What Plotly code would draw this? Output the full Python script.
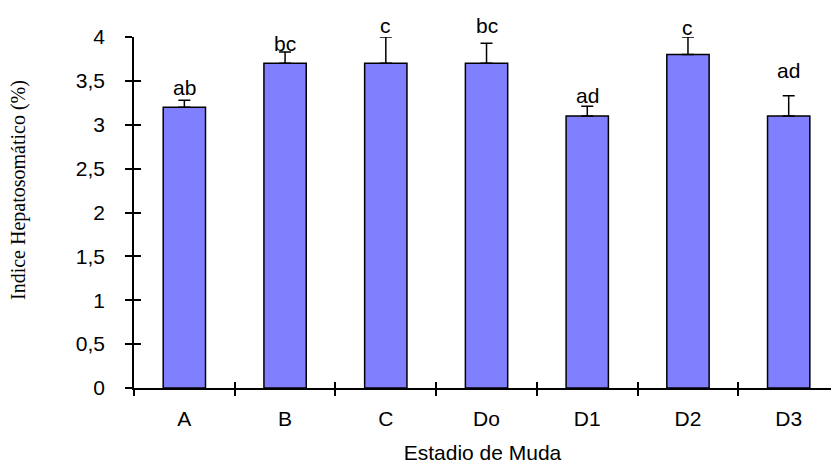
import plotly.graph_objects as go

categories = ["A", "B", "C", "Do", "D1", "D2", "D3"]
values = [3.2, 3.7, 3.7, 3.7, 3.1, 3.8, 3.1]
errors = [0.08, 0.13, 0.30, 0.23, 0.11, 0.20, 0.23]
letters = ["ab", "bc", "c", "bc", "ad", "c", "ad"]
label_y = [3.43, 3.93, 4.13, 4.13, 3.33, 4.11, 3.62]
y_ticks = [0, 0.5, 1, 1.5, 2, 2.5, 3, 3.5, 4]
y_title = "Indice Hepatosomático (%)"
x_title = "Estadio de Muda"

font_sans = "Liberation Sans, Arial, sans-serif"
font_serif = "Liberation Serif, Times New Roman, serif"
FS = 21

W, H = 831, 464
M = dict(l=134, r=0, t=37, b=76)
plot_w = W - M["l"] - M["r"]
plot_h = H - M["t"] - M["b"]
px_per_unit = plot_h / 4.0

fig = go.Figure()
fig.add_trace(go.Bar(
    x=categories, y=values, width=0.42,
    marker=dict(color="#8080FF", line=dict(color="black", width=1.5)),
    error_y=dict(type="data", symmetric=False, array=errors,
                 arrayminus=[0] * len(errors), color="black",
                 thickness=1.5, width=6),
    showlegend=False,
))
# invisible trace for the overlay axes (crossing ticks)
fig.add_trace(go.Scatter(x=categories, y=values, xaxis="x2", yaxis="y2",
                         mode="markers", marker=dict(opacity=0),
                         showlegend=False, hoverinfo="skip"))

for c, v, e, t, ly in zip(categories, values, errors, letters, label_y):
    top = v + e
    fig.add_annotation(x=c, y=top, text=t, showarrow=False,
                       font=dict(family=font_sans, size=FS, color="black"),
                       yanchor="middle", yshift=(ly - top) * px_per_unit)

# y-axis title (placed slightly above the axis centre, as in the original)
fig.add_annotation(xref="paper", yref="paper",
                   x=(18 - M["l"]) / plot_w, y=(H - M["b"] - 190) / plot_h,
                   text=y_title, textangle=-90, showarrow=False,
                   xanchor="center", yanchor="middle",
                   font=dict(family=font_serif, size=20, color="black"))

fig.update_layout(
    width=W, height=H,
    margin=M,
    plot_bgcolor="white", paper_bgcolor="white",
    separators=",.",
    xaxis=dict(
        type="category", range=[-0.5, 6.42], automargin=False,
        showline=True, linecolor="black", linewidth=1.5,
        ticks="outside", ticklen=6, tickwidth=1.5, tickcolor="black",
        tickson="boundaries", showgrid=False, zeroline=False,
        tickfont=dict(family=font_sans, size=FS, color="black"),
        ticklabelstandoff=11,
        title=dict(text=x_title, standoff=25,
                   font=dict(family=font_sans, size=FS, color="black")),
    ),
    xaxis2=dict(
        type="category", overlaying="x", matches="x",
        ticks="inside", ticklen=6, tickwidth=1.5, tickcolor="black",
        tickson="boundaries", showticklabels=False, showgrid=False,
        showline=False, zeroline=False,
    ),
    yaxis=dict(
        range=[0, 4], tickvals=y_ticks, automargin=False,
        showline=True, linecolor="black", linewidth=1.5,
        ticks="outside", ticklen=7, tickwidth=1.5, tickcolor="black",
        showgrid=False, zeroline=False,
        tickfont=dict(family=font_sans, size=FS, color="black"),
        ticklabelstandoff=16,
    ),
    yaxis2=dict(
        overlaying="y", matches="y", tickvals=y_ticks,
        ticks="inside", ticklen=7, tickwidth=1.5, tickcolor="black",
        showticklabels=False, showgrid=False, showline=False, zeroline=False,
    ),
)

fig.write_html("out.html", config={"displayModeBar": False},
               post_script="document.body.style.margin='0';")
